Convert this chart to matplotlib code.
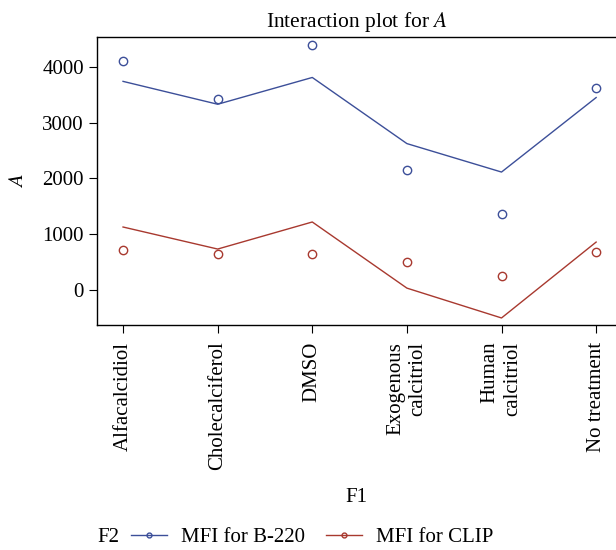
import numpy as np
import matplotlib.pyplot as plt
from matplotlib.lines import Line2D

plt.rcParams['font.family'] = ['Liberation Serif', 'DejaVu Serif']
plt.rcParams['mathtext.fontset'] = 'stix'

# treatments (F1)
treatments = ["Alfacalcidiol", "Cholecalciferol", "DMSO",
              "Exogenous\ncalcitriol", "Human\ncalcitriol", "No treatment"]

# observed values (circles)
b220_obs = [4100, 3430, 4400, 2150, 1360, 3620]
clip_obs = [720, 650, 655, 505, 250, 680]

# fitted values (lines)
b220_fit = [3740, 3330, 3810, 2625, 2115, 3450]
clip_fit = [1130, 735, 1220, 35, -500, 860]

blue = '#3c4f99'
red = '#a8392f'
fs = 15

fig = plt.figure(figsize=(6.16, 5.5), dpi=100)
ax = fig.add_axes([0.1575, 0.409, 0.8425, 0.5236])

x = np.arange(len(treatments))
ax.plot(x, b220_fit, color=blue, lw=1)
ax.plot(x, clip_fit, color=red, lw=1)
ax.plot(x, b220_obs, 'o', mfc='none', mec=blue, ms=6, mew=1)
ax.plot(x, clip_obs, 'o', mfc='none', mec=red, ms=6, mew=1)

ax.set_xlim(-0.275, 5.21)
ax.set_ylim(-627, 4534)
ax.set_yticks([0, 1000, 2000, 3000, 4000])
ax.set_xticks(x)
ax.set_xticklabels(treatments, rotation=90, ha='center', va='top',
                   multialignment='right', fontsize=fs, linespacing=1.25)
ax.tick_params(axis='y', labelsize=fs)
ax.tick_params(direction='out', length=6, width=0.8)
ax.tick_params(axis='x', pad=6)
ax.spines['right'].set_visible(False)
for s in ['left', 'bottom', 'top']:
    ax.spines[s].set_linewidth(1)

ax.set_title("Interaction plot for $A$", fontsize=15.5, pad=7)
ax.set_ylabel("$A$", fontsize=fs, labelpad=10)
ax.set_xlabel("F1", fontsize=fs, va='top')
ax.xaxis.set_label_coords(0.5, -0.565)

fig.text(97 / 616, 1 - 537 / 550, "F2", fontsize=fs, va='center', ha='left')
handles = [Line2D([], [], color=blue, lw=1, marker='o', mfc='none', ms=3.5),
           Line2D([], [], color=red, lw=1, marker='o', mfc='none', ms=3.5)]
fig.legend(handles, ["MFI for B-220", "MFI for CLIP"], ncol=2, frameon=False,
           loc='center left', bbox_to_anchor=(125 / 616, 1 - 537 / 550),
           fontsize=fs, handlelength=1.7, columnspacing=1.0, handletextpad=0.7,
           borderaxespad=0, borderpad=0.3)

fig.savefig("out.png", dpi=100)
